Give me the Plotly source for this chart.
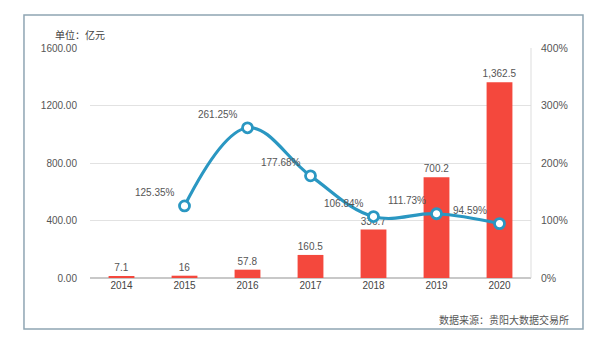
import plotly.graph_objects as go

# Guiyang big data exchange: trading volume (100M CNY) and growth rate
years = ["2014", "2015", "2016", "2017", "2018", "2019", "2020"]
volume = [7.1, 16, 57.8, 160.5, 336.7, 700.2, 1362.5]
growth_years = ["2015", "2016", "2017", "2018", "2019", "2020"]
growth = [125.35, 261.25, 177.68, 106.84, 111.73, 94.59]

left_ticks = [0, 400, 800, 1200, 1600]
right_ticks = [0, 100, 200, 300, 400]

BAR_RED = "#F4483D"
LINE_BLUE = "#2A97C2"
TEXT = "#555555"
FONT = "Liberation Sans, Arial, Noto Sans CJK SC, sans-serif"
CJK = "Noto Sans CJK SC, sans-serif"

fig = go.Figure()

fig.add_trace(go.Bar(
    x=years, y=volume, yaxis="y",
    marker=dict(color=BAR_RED, line=dict(width=0)),
    width=0.41,
    texttemplate="%{y:,}", textposition="outside", constraintext="none",
    textfont=dict(size=10, color=TEXT, family=FONT),
    cliponaxis=False,
))

fig.add_trace(go.Scatter(
    x=growth_years, y=growth, yaxis="y2",
    mode="lines+markers",
    line=dict(color=LINE_BLUE, width=3.2, shape="spline", smoothing=1.1),
    marker=dict(size=10, color="white", line=dict(color=LINE_BLUE, width=2.8)),
    cliponaxis=False,
))

annotations = []
for yr, g in zip(growth_years, growth):
    annotations.append(dict(
        x=years.index(yr), y=g, xref="x", yref="y2", text=f"{g:.2f}%",
        showarrow=False, xshift=-30, yshift=13,
        font=dict(size=10, color=TEXT, family=FONT),
    ))

annotations.append(dict(
    x=-0.085, y=1.06, xref="paper", yref="paper", text="单位：亿元",
    showarrow=False, xanchor="left", yanchor="middle",
    font=dict(size=10, color="#444444", family=CJK),
))
annotations.append(dict(
    x=1.09, y=-0.18, xref="paper", yref="paper", text="数据来源：贵阳大数据交易所",
    showarrow=False, xanchor="right", yanchor="middle",
    font=dict(size=10, color="#555555", family=CJK),
))

shapes = [
    # outer frame
    dict(type="rect", xref="paper", yref="paper",
         x0=-0.1497, x1=1.1179, y0=-0.2217, y1=1.1435,
         line=dict(color="#8FA5B3", width=1.5), fillcolor="rgba(0,0,0,0)", layer="below"),
    # right edge of plotting area
    dict(type="line", xref="paper", yref="paper", x0=1, x1=1, y0=0, y1=1,
         line=dict(color="#DDDDDD", width=1)),
]

fig.update_layout(
    width=600, height=343,
    margin=dict(l=90, r=69, t=48, b=65),
    paper_bgcolor="white", plot_bgcolor="white",
    showlegend=False,
    annotations=annotations,
    shapes=shapes,
    font=dict(family=FONT, color=TEXT, size=10),
    xaxis=dict(
        type="category", range=[-0.5, 6.5], autorange=False,
        showgrid=False, zeroline=False, showline=False,
        tickfont=dict(size=10, color="#444444"), ticks="",
    ),
    yaxis=dict(
        range=[0, 1600], autorange=False, tickvals=left_ticks,
        ticktext=[f"{v:.2f}" for v in left_ticks],
        showgrid=True, gridcolor="#E2E2E2", gridwidth=1,
        zeroline=True, zerolinecolor="#C8C8C8", zerolinewidth=1.5,
        showline=False, ticks="", ticklabelstandoff=12,
        tickfont=dict(size=10, color=TEXT),
    ),
    yaxis2=dict(
        range=[0, 400], autorange=False, tickvals=right_ticks,
        ticktext=[f"{v}%" for v in right_ticks],
        overlaying="y", side="right", showgrid=False, zeroline=False,
        showline=False, ticks="", ticklabelstandoff=9,
        tickfont=dict(size=10.5, color=TEXT),
    ),
)

fig.write_html("out.html")
